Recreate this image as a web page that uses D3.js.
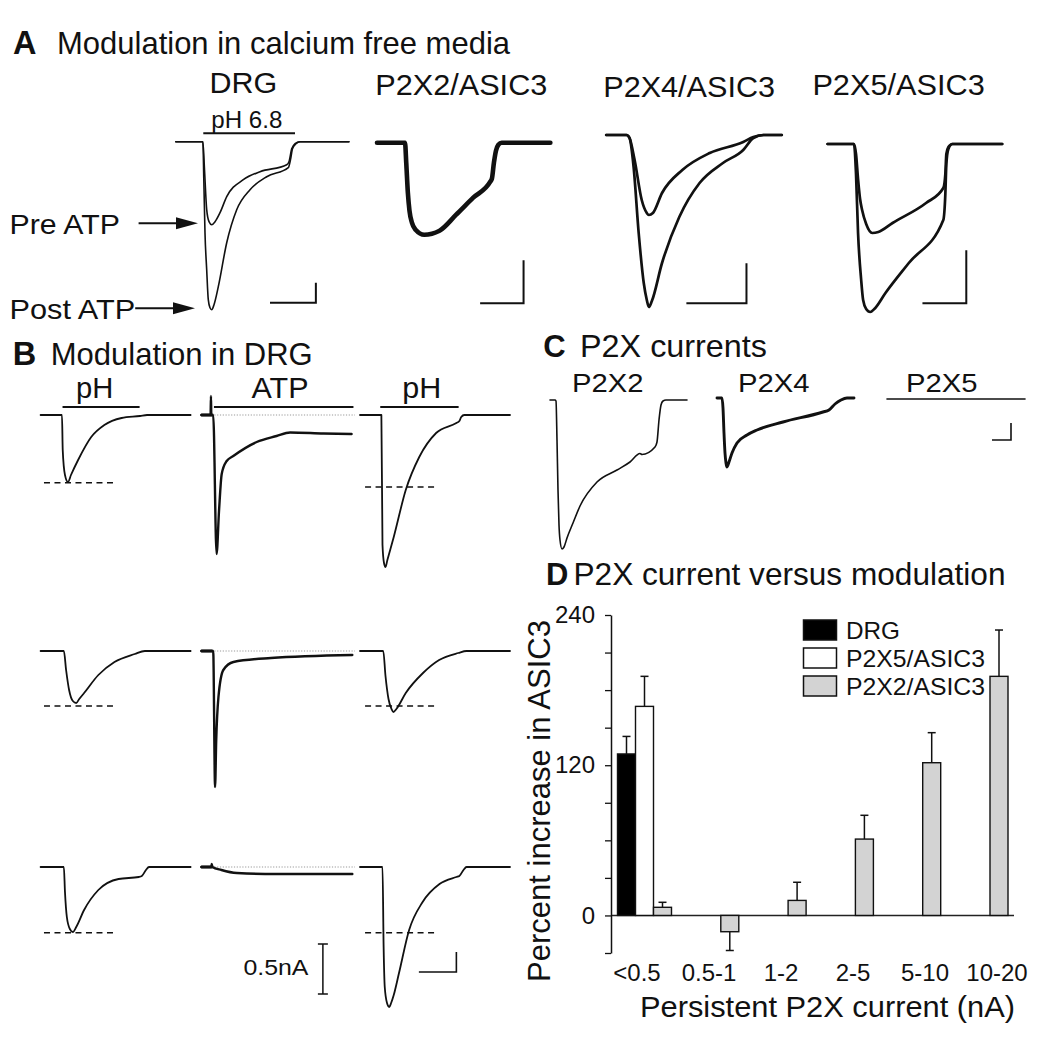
<!DOCTYPE html>
<html><head><meta charset="utf-8">
<script src="https://cdn.jsdelivr.net/npm/d3@7"></script>
<style>body{margin:0;background:#fff}</style>
</head><body>
<script>
// ================= DATA =================
// Panel A: ASIC3 currents (time s, current nA), pre / post ATP
const aCellNames = ["DRG", "P2X2/ASIC3", "P2X4/ASIC3", "P2X5/ASIC3"];
const aDRGPre = [[0,0],[0.667,0],[0.707,-0.28],[0.761,-0.68],[0.818,-0.80],[0.884,-0.83],[0.966,-0.80],[1.089,-0.71],[1.254,-0.55],[1.663,-0.38],[2.074,-0.30],[2.732,-0.23],[2.788,-0.20],[2.855,-0.07],[2.936,-0.02],[3.059,0],[4.264,0]];
const aDRGPost = [[0,0],[0.667,0],[0.69,-0.38],[0.719,-0.91],[0.761,-1.28],[0.80,-1.58],[0.842,-1.66],[0.884,-1.68],[0.941,-1.63],[1.047,-1.45],[1.254,-1.01],[1.50,-0.68],[1.828,-0.48],[2.239,-0.35],[2.771,-0.26],[2.825,-0.18],[2.874,-0.07],[2.961,-0.02],[3.059,0],[4.264,0]];
const aP2X2 = [[0,0],[0.69,0],[0.72,-0.20],[0.76,-0.50],[0.80,-0.68],[0.86,-0.80],[0.95,-0.87],[1.165,-0.92],[1.54,-0.88],[1.95,-0.72],[2.37,-0.55],[2.79,-0.39],[2.83,-0.36],[2.88,-0.20],[2.93,-0.08],[2.99,-0.02],[3.07,0],[4.27,0]];
const aP2X4Pre = [[0,0],[0.50,0],[0.575,-0.03],[0.70,-0.25],[0.875,-0.65],[1.00,-0.78],[1.05,-0.80],[1.15,-0.78],[1.375,-0.58],[1.875,-0.35],[2.55,-0.18],[3.375,-0.07],[3.625,-0.02],[3.875,0],[4.325,0]];
const aP2X4Post = [[0,0],[0.50,0],[0.575,-0.03],[0.675,-0.32],[0.80,-0.98],[0.925,-1.48],[1.00,-1.65],[1.05,-1.72],[1.125,-1.66],[1.375,-1.28],[1.80,-0.82],[2.30,-0.48],[2.875,-0.28],[3.375,-0.15],[3.625,-0.03],[3.875,0],[4.325,0]];
const aP2X5Pre = [[0,0],[0.65,0],[0.70,-0.10],[0.75,-0.35],[0.80,-0.55],[0.85,-0.66],[0.95,-0.80],[1.10,-0.89],[1.25,-0.88],[1.60,-0.79],[2.425,-0.59],[2.85,-0.44],[2.90,-0.30],[2.925,-0.10],[2.975,-0.03],[3.075,0],[4.30,0]];
const aP2X5Post = [[0,0],[0.65,0],[0.70,-0.30],[0.75,-0.89],[0.825,-1.35],[0.875,-1.56],[0.95,-1.65],[1.05,-1.68],[1.15,-1.65],[1.425,-1.49],[2.00,-1.19],[2.85,-0.76],[2.90,-0.50],[2.925,-0.20],[2.975,-0.05],[3.075,0],[4.30,0]];
// scale bars: [corner t, corner I, length s, length nA]
const aScaleBars = [[3.45,-1.61,1.13,0.20],[3.61,-1.606,1.07,0.43],[3.455,-1.683,1.48,0.40],[3.416,-1.593,1.08,0.53]];
const aPHBar = [0.677, 2.936];

// Panel B: rows of pH / ATP / pH responses in DRG
const bColNames = ["pH", "ATP", "pH"];
const bPH1 = [
  [[0,0],[0.57,0],[0.59,-0.35],[0.65,-0.60],[0.73,-0.67],[0.81,-0.60],[1.00,-0.45],[1.35,-0.22],[1.70,-0.10],[2.16,-0.03],[2.65,-0.01],[2.84,0],[4.00,0]],
  [[0,0],[0.62,0],[0.68,-0.19],[0.76,-0.39],[0.86,-0.50],[0.95,-0.52],[1.03,-0.48],[1.16,-0.42],[1.54,-0.24],[1.97,-0.11],[2.51,-0.03],[2.78,0],[4.0,0]],
  [[0,0],[0.62,0],[0.65,-0.25],[0.70,-0.50],[0.78,-0.62],[0.86,-0.65],[0.95,-0.60],[1.16,-0.43],[1.54,-0.23],[2.08,-0.12],[2.62,-0.10],[2.70,-0.09],[2.81,-0.03],[2.89,0],[4.0,0]]
];
const bATP = [
  [[0,0],[0.25,0],[0.26,0.19],[0.27,0],[0.32,0],[0.41,-1.39],[0.475,-0.96],[0.547,-0.59],[0.68,-0.46],[0.856,-0.41],[1.48,-0.27],[2.01,-0.21],[2.37,-0.175],[3.26,-0.185],[4.01,-0.19]],
  [[0,0],[0.32,0],[0.37,-1.36],[0.40,-0.90],[0.46,-0.46],[0.59,-0.19],[0.86,-0.11],[1.86,-0.07],[4.03,-0.04]],
  [[0,0],[0.27,0],[0.28,0.03],[0.30,0],[0.54,-0.03],[0.95,-0.06],[2.0,-0.07],[4.03,-0.07]]
];
const bATPHold = [0, 0.30];   // holding segment before ATP (drawn heavier)
const bPH3 = [
  [[0,0],[0.57,0],[0.60,-1.30],[0.64,-1.48],[0.68,-1.52],[0.73,-1.45],[0.90,-1.22],[1.22,-0.75],[1.58,-0.42],[2.03,-0.18],[2.57,-0.08],[2.65,-0.06],[2.70,-0.02],[2.78,0],[4.0,0]],
  [[0,0],[0.62,0],[0.68,-0.25],[0.76,-0.48],[0.84,-0.58],[0.89,-0.61],[0.97,-0.58],[1.22,-0.42],[1.68,-0.22],[2.11,-0.09],[2.62,-0.02],[2.84,0],[4.0,0]],
  [[0,0],[0.60,0],[0.63,-0.80],[0.66,-1.20],[0.72,-1.36],[0.78,-1.40],[0.83,-1.36],[0.90,-1.28],[1.04,-1.06],[1.31,-0.63],[1.67,-0.35],[2.12,-0.17],[2.57,-0.10],[2.65,-0.09],[2.76,-0.03],[2.84,0],[4.0,0]]
];
const bDashLevels = [[-0.677,-0.72],[-0.55,-0.55],[-0.657,-0.657]];
const bAppBars = [[0.585,2.64],[0.34,4.06],[0.54,2.63]];
const bCurrentBar = 0.5;   // nA
const bTimeBar = 1.0;      // s

// Panel C: P2X currents
const cNames = ["P2X2", "P2X4", "P2X5"];
const cP2X2 = [[0,0],[0.125,0],[0.15,-0.01],[0.175,-0.40],[0.20,-0.90],[0.225,-1.25],[0.25,-1.40],[0.30,-1.49],[0.35,-1.47],[0.425,-1.38],[0.575,-1.23],[0.75,-1.06],[1.175,-0.82],[1.675,-0.70],[2.00,-0.62],[2.25,-0.535],[2.30,-0.545],[2.625,-0.47],[2.675,-0.42],[2.725,-0.20],[2.775,-0.05],[2.825,-0.01],[2.90,0],[3.425,0]];
const cP2X4 = [[0,0],[0.125,0],[0.15,-0.10],[0.175,-0.35],[0.20,-0.55],[0.225,-0.65],[0.25,-0.69],[0.30,-0.64],[0.375,-0.55],[0.50,-0.45],[0.75,-0.37],[1.00,-0.32],[1.65,-0.24],[2.65,-0.14],[2.80,-0.12],[2.95,-0.06],[3.10,-0.02],[3.25,0],[3.425,0]];
const cP2X5 = [[0,0],[3.45,0]];
const cScaleBar = [3.1,-0.41,0.475,0.17];

// Panel D: bar chart
const dCategories = ["<0.5","0.5-1","1-2","2-5","5-10","10-20"];
const dSeries = ["DRG","P2X5/ASIC3","P2X2/ASIC3"];
const dDRG = [129, null, null, null, null, null];
const dDRGErr = [14, null, null, null, null, null];
const dP2X5 = [167, null, null, null, null, null];
const dP2X5Err = [24, null, null, null, null, null];
const dP2X2 = [6.5, -13, 12, 61, 122, 191];
const dP2X2Err = [4, 15, 14.5, 19, 24, 37];
const dYTicks = [-30, 0, 30, 60, 90, 120, 150, 180, 210, 240];
const dYLabels = [0, 120, 240];

// ================= DRAWING =================
const FONT = "'Liberation Sans', Arial, Helvetica, sans-serif";
const INK = "#111";
const svg = d3.select("body").append("svg").attr("width",1050).attr("height",1038);
svg.append("rect").attr("width",1050).attr("height",1038).attr("fill","#fff");

function txt(s, x, y, size, o = {}) {
  const t = svg.append("text").attr("x", x).attr("y", y)
    .attr("font-size", size).attr("font-family", FONT).attr("fill", INK).text(s);
  if (o.w) t.attr("textLength", o.w).attr("lengthAdjust", "spacingAndGlyphs");
  if (o.anchor) t.attr("text-anchor", o.anchor);
  if (o.bold) t.attr("font-weight", "bold");
  if (o.transform) t.attr("transform", o.transform);
  return t;
}
function cell(x0, base, pxS, pxNA) {
  return {
    x: d3.scaleLinear().domain([0, 1]).range([x0, x0 + pxS]),
    y: d3.scaleLinear().domain([0, -1]).range([base, base + pxNA])
  };
}
function trace(sc, data, sw) {
  svg.append("path").datum(data)
    .attr("d", d3.line().x(d => sc.x(d[0])).y(d => sc.y(d[1])).curve(d3.curveMonotoneX))
    .attr("fill", "none").attr("stroke", INK).attr("stroke-width", sw)
    .attr("stroke-linejoin", "round").attr("stroke-linecap", "round");
}
function scaleBar(sc, b, sw) {
  const [t, i, dt, di] = b;
  svg.append("path")
    .attr("d", `M${sc.x(t)},${sc.y(i + di)}V${sc.y(i)}H${sc.x(t - dt)}`)
    .attr("fill", "none").attr("stroke", INK).attr("stroke-width", sw);
}
function hline(sc, t0, t1, i, sw, dash, color) {
  const l = svg.append("line").attr("x1", sc.x(t0)).attr("x2", sc.x(t1))
    .attr("y1", sc.y(i)).attr("y2", sc.y(i))
    .attr("stroke", color || INK).attr("stroke-width", sw);
  if (dash) l.attr("stroke-dasharray", dash);
}

// ---------- Panel A ----------
txt("A", 13, 53.5, 32.5, {bold: true});
txt("Modulation in calcium free media", 57, 53.5, 30.5, {w: 453});
const aLayout = [
  {x0: 175.8, base: 141.7, sw: 1.6, lx: 209.6, lw: 67.7, ly: 93},
  {x0: 377.0, base: 142.7, sw: 4.6, lx: 375.3, lw: 172, ly: 95},
  {x0: 606.2, base: 135.0, sw: 2.7, lx: 603.3, lw: 171.7, ly: 96.5},
  {x0: 827.6, base: 144.0, sw: 2.7, lx: 812.4, lw: 172.4, ly: 95}
];
const aTraces = [[aDRGPre, aDRGPost], [aP2X2], [aP2X4Pre, aP2X4Post], [aP2X5Pre, aP2X5Post]];
const aScales = aLayout.map(L => cell(L.x0, L.base, 40.6, 100));
aLayout.forEach((L, k) => {
  txt(aCellNames[k], L.lx, L.ly, 30, {w: L.lw});
  aTraces[k].forEach(tr => trace(aScales[k], tr, L.sw));
  scaleBar(aScales[k], aScaleBars[k], 2);
});
// pH application bar (DRG)
hline(aScales[0], aPHBar[0], aPHBar[1], 0.084, 2);
txt("pH 6.8", 211.3, 127.5, 24, {w: 71});
// arrows to peaks
const sA = aScales[0];
const preMin = d3.min(aDRGPre, d => d[1]), postMin = d3.min(aDRGPost, d => d[1]);
function arrow(xStart, tipT, I) {
  const y = sA.y(I) - 1.5, tip = sA.x(tipT);
  svg.append("line").attr("x1", xStart).attr("x2", tip - 18).attr("y1", y).attr("y2", y)
    .attr("stroke", INK).attr("stroke-width", 2);
  svg.append("path").attr("d", `M${tip},${y}L${tip - 22},${y - 6}L${tip - 22},${y + 6}Z`).attr("fill", INK);
  return y;
}
const yPre = arrow(138.6, 0.547, preMin);
txt("Pre ATP", 9.5, yPre + 10.6, 28.5, {w: 110.5});
const yPost = arrow(135.2, 0.473, postMin);
txt("Post ATP", 9.5, yPost + 10.5, 28.5, {w: 125.7});

// ---------- Panel B ----------
txt("B", 12.8, 365, 32.5, {bold: true});
txt("Modulation in DRG", 50.7, 365, 30.5, {w: 262});
const bX0 = [40.6, 201.2, 360];
const bBase = [415, 651, 867];
const bScales = bBase.map(b => bX0.map(x0 => cell(x0, b, 37.5, 100)));
const bLabelX = [94.7, 280, 421.7];
const bLabelW = [37.3, 57, 39];
bColNames.forEach((n, c) => {
  txt(n, bLabelX[c], 398, 29, {anchor: "middle", w: bLabelW[c]});
  hline(bScales[0][c], bAppBars[c][0], bAppBars[c][1], 0.08, 2);
});
bBase.forEach((b, r) => {
  const s = bScales[r];
  // dotted baseline on ATP
  hline(s[1], 0.35, 4.1, 0, 1, "1.2,1.6", "#999");
  trace(s[0], bPH1[r], 1.8);
  trace(s[1], bATP[r], 2.4);
  hline(s[1], bATPHold[0], bATPHold[1], 0, 3);
  trace(s[2], bPH3[r], 1.8);
  hline(s[0], 0.09, 1.94, bDashLevels[r][0], 1.5, "6,4.5");
  hline(s[2], 0.135, 1.98, bDashLevels[r][1], 1.5, "6,4.5");
});
// 0.5 nA I-bar and 1 s bar
{
  const s = bScales[2][1];
  const xb = s.x(3.245), y1 = s.y(-0.77), y2 = s.y(-0.77 - bCurrentBar);
  svg.append("path").attr("d", `M${xb},${y1}V${y2}M${xb - 5},${y1}H${xb + 5}M${xb - 5},${y2}H${xb + 5}`)
    .attr("stroke", INK).attr("stroke-width", 1.5).attr("fill", "none");
  txt("0.5nA", 243.4, 975, 22, {w: 65});
  scaleBar(bScales[2][2], [2.57, -1.05, bTimeBar, 0.2], 1.6);
}

// ---------- Panel C ----------
txt("C", 543.3, 356.7, 31, {bold: true});
txt("P2X currents", 580, 356.7, 30.5, {w: 187});
const cX0 = [550, 717, 887], cBase = [400, 398, 399];
const cScales = cX0.map((x0, k) => cell(x0, cBase[k], 40, 100));
const cLabX = [572, 738, 906];
cNames.forEach((n, k) => txt(n, cLabX[k], 392, 26, {w: 71.5}));
trace(cScales[0], cP2X2, 1.6);
trace(cScales[1], cP2X4, 2.9);
trace(cScales[2], cP2X5, 1.6);
scaleBar(cScales[2], cScaleBar, 1.6);

// ---------- Panel D ----------
txt("D", 546, 585, 31, {bold: true});
txt("P2X current versus modulation", 573.5, 585, 30.5, {w: 432});
const yD = d3.scaleLinear().domain([-30, 240]).range([953, 615]);
const xD = d3.scaleBand().domain(dCategories).range([628.85, 1032.65]);
const xSub = d3.scaleBand().domain(dSeries).range([-45, 9]);
const xLab = d3.scaleBand().domain(dCategories).range([601, 1033]);
const dFill = {"DRG": "#000", "P2X5/ASIC3": "#fff", "P2X2/ASIC3": "#d3d3d3"};
const dVals = {"DRG": [dDRG, dDRGErr], "P2X5/ASIC3": [dP2X5, dP2X5Err], "P2X2/ASIC3": [dP2X2, dP2X2Err]};

// zero line
svg.append("line").attr("x1", 611).attr("x2", 1014).attr("y1", yD(0)).attr("y2", yD(0))
  .attr("stroke", "#222").attr("stroke-width", 1.6);

dSeries.forEach(s => {
  const [vals, errs] = dVals[s];
  const rows = dCategories.map((c, i) => ({c, v: vals[i], e: errs[i]})).filter(d => d.v != null);
  const g = svg.append("g");
  rows.forEach(d => {
    const x = xD(d.c) + xD.bandwidth() / 2 + xSub(s);
    const w = xSub.bandwidth();
    const cx = x + w / 2;
    const tip = d.v >= 0 ? d.v + d.e : d.v - d.e;
    g.append("line").attr("x1", cx).attr("x2", cx).attr("y1", yD(d.v)).attr("y2", yD(tip))
      .attr("stroke", INK).attr("stroke-width", 1.5);
    g.append("line").attr("x1", cx - 4).attr("x2", cx + 4).attr("y1", yD(tip)).attr("y2", yD(tip))
      .attr("stroke", INK).attr("stroke-width", 1.5);
    g.append("rect").attr("x", x).attr("width", w)
      .attr("y", yD(Math.max(d.v, 0))).attr("height", Math.abs(yD(d.v) - yD(0)))
      .attr("fill", dFill[s]).attr("stroke", INK).attr("stroke-width", 1.4);
  });
});

// y axis
const yAx = svg.append("g").attr("transform", "translate(611,0)")
  .call(d3.axisLeft(yD).tickValues(dYTicks).tickSize(6).tickSizeOuter(0).tickPadding(10)
    .tickFormat(d => dYLabels.includes(d) ? d : ""));
yAx.select(".domain").attr("stroke", INK).attr("stroke-width", 1.5);
yAx.selectAll(".tick line").attr("stroke", INK).attr("stroke-width", 1.3);
yAx.selectAll(".tick text").attr("font-size", 24).attr("font-family", FONT).attr("fill", INK);

// x labels
dCategories.forEach(c => txt(c, xLab(c) + xLab.bandwidth() / 2, 981, 24, {anchor: "middle"}));
txt("Persistent P2X current (nA)", 640, 1017, 30, {w: 375});
txt("Percent increase in ASIC3", 0, 0, 30.5, {anchor: "middle", w: 362, transform: "translate(550,801) rotate(-90)"});

// legend
dSeries.forEach((s, i) => {
  svg.append("rect").attr("x", 803.5).attr("y", 620 + i * 28).attr("width", 33).attr("height", 20)
    .attr("fill", dFill[s]).attr("stroke", INK).attr("stroke-width", 1.5);
  txt(s, 846, 639 + i * 28, 24, {w: s === "DRG" ? 54 : 139});
});
</script>
</body></html>
